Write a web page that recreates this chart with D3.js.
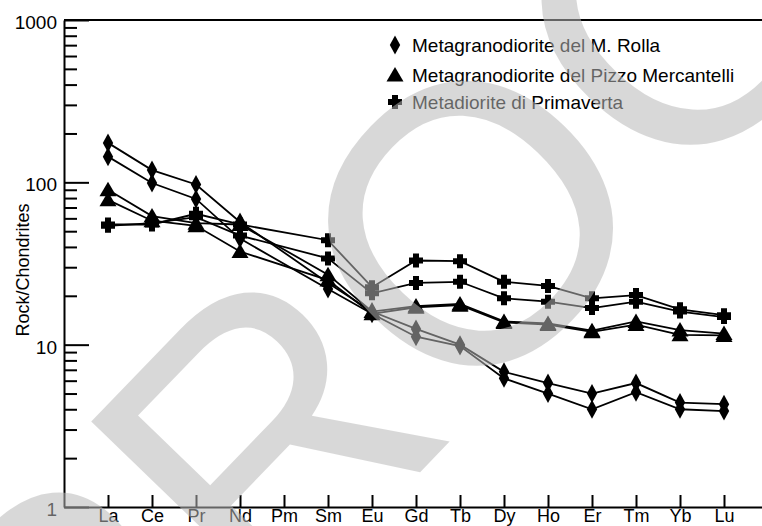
<!DOCTYPE html>
<html>
<head>
<meta charset="utf-8">
<script src="https://cdn.jsdelivr.net/npm/d3@7"></script>
<style>
  html, body { margin: 0; padding: 0; background: #fff; }
  svg { display: block; }
  text { font-family: "Liberation Sans", Arial, sans-serif; fill: #000; }
</style>
</head>
<body>
<svg id="chart" width="762" height="526"></svg>
<script>
// ---- data ----
const elements = ["La","Ce","Pr","Nd","Pm","Sm","Eu","Gd","Tb","Dy","Ho","Er","Tm","Yb","Lu"];
const rollaA = [175, 119, 97, 57, null, 24, 16, 12.5, 10, 6.8, 5.8, 5.0, 5.8, 4.4, 4.3];
const rollaB = [144, 99, 79, 45, null, 22, 15.5, 11.2, 9.8, 6.2, 5.0, 4.0, 5.1, 4.0, 3.9];
const mercA  = [90, 62, 56, 55, null, 27, 16, 17.3, 17.8, 13.9, 13.5, 12.2, 13.9, 12.3, 11.7];
const mercB  = [78, 58, 54, 37.5, null, 25, 15.5, 17, 17.5, 13.7, 13.3, 12.0, 13.3, 11.5, 11.4];
const primA  = [55, 55, 64, 55, null, 44, 22.6, 33, 32.7, 24.4, 23, 19.3, 20.2, 16.5, 15.2];
const primB  = [54, 56, 61, 47, null, 34, 20.7, 24, 24.4, 19.3, 18.4, 16.8, 18.4, 16.0, 14.8];
const legendLabels = ["Metagranodiorite del M. Rolla", "Metagranodiorite del Pizzo Mercantelli", "Metadiorite di Primaverta"];
const majorTicks = [1, 10, 100, 1000];
const yAxisTitle = "Rock/Chondrites";
const watermark = "PROOF";

const series = [
  {values: primA, symbol: "cross"},
  {values: primB, symbol: "cross"},
  {values: mercA, symbol: "triangle"},
  {values: mercB, symbol: "triangle"},
  {values: rollaA, symbol: "diamond"},
  {values: rollaB, symbol: "diamond"}
];

// ---- layout ----
const svg = d3.select("#chart");
const L = 64, T = 20, B = 507, R = 768;
const x = d3.scaleLinear().domain([-1, 15]).range([L, R]);
const y = d3.scaleLog().domain([1, 1000]).range([B, T]);
const FONT = '"Liberation Sans", Arial, sans-serif';

const symbols = {
  diamond: "M0,-9.5L5.2,0L0,9.5L-5.2,0Z",
  triangle: "M0,-8L8.5,6.5L-8.5,6.5Z",
  cross: "M-3,-7h6v4h4v6h-4v4h-6v-4h-4v-6h4Z"
};

// frame top
svg.append("line").attr("x1", L).attr("x2", R).attr("y1", T).attr("y2", T)
  .attr("stroke", "#000").attr("stroke-width", 2);

// y axis minor ticks
const minor = [];
[1, 10, 100].forEach(d => { for (let k = 2; k <= 9; k++) minor.push(d * k); });
svg.append("g").attr("transform", `translate(${L},0)`)
  .call(d3.axisLeft(y).tickValues(minor).tickSize(-13).tickFormat(""))
  .call(g => g.select(".domain").remove())
  .call(g => g.selectAll("line").attr("stroke", "#000").attr("stroke-width", 2));

// y axis major
const yAx = svg.append("g").attr("transform", `translate(${L},0)`)
  .call(d3.axisLeft(y).tickValues(majorTicks).tickSize(-25).tickSizeOuter(0).tickPadding(7).tickFormat(d3.format("d")));
yAx.select(".domain").attr("stroke", "#000").attr("stroke-width", 2);
yAx.selectAll("line").attr("stroke", "#000").attr("stroke-width", 2);
yAx.selectAll("text").attr("font-size", 19).attr("dy", "0.45em").attr("fill", "#000")
  .style("font-family", FONT);

// x axis
const xAx = svg.append("g").attr("transform", `translate(0,${B})`)
  .call(d3.axisBottom(x).tickValues(d3.range(elements.length)).tickSize(-12).tickSizeOuter(0).tickPadding(2)
    .tickFormat(i => elements[i]));
xAx.select(".domain").attr("stroke", "#000").attr("stroke-width", 2);
xAx.selectAll("line").attr("stroke", "#000").attr("stroke-width", 2);
xAx.selectAll("text").attr("font-size", 18).attr("fill", "#000")
  .style("font-family", FONT);

// y title
svg.append("text").attr("transform", "translate(29,270) rotate(-90)")
  .attr("text-anchor", "middle").attr("font-size", 18).text(yAxisTitle);

// lines
const line = d3.line().x(d => x(d.i)).y(d => y(d.v));
const plot = svg.append("g");
series.forEach(s => {
  const pts = s.values.map((v, i) => ({i, v})).filter(d => d.v != null);
  plot.append("path").attr("d", line(pts)).attr("fill", "none")
    .attr("stroke", "#000").attr("stroke-width", 1.8);
});
series.forEach(s => {
  const pts = s.values.map((v, i) => ({i, v})).filter(d => d.v != null);
  plot.selectAll(null).data(pts).enter().append("path")
    .attr("d", symbols[s.symbol])
    .attr("transform", d => `translate(${x(d.i)},${y(d.v)})`)
    .attr("fill", "#000");
});

// legend
const legSyms = ["diamond", "triangle", "cross"];
const legY = [45, 75, 102];
legendLabels.forEach((lab, k) => {
  svg.append("path").attr("d", symbols[legSyms[k]])
    .attr("transform", `translate(395,${legY[k]})`).attr("fill", "#000");
  svg.append("text").attr("x", 412).attr("y", legY[k]).attr("dy", "0.35em")
    .attr("font-size", 19).text(lab);
});

// watermark
svg.append("text")
  .attr("transform", "translate(569,318) rotate(-46)")
  .attr("text-anchor", "middle")
  .attr("font-size", 395)
  .style("fill", "#b9b9b9")
  .attr("opacity", 0.54)
  .text(watermark);
</script>
</body>
</html>
